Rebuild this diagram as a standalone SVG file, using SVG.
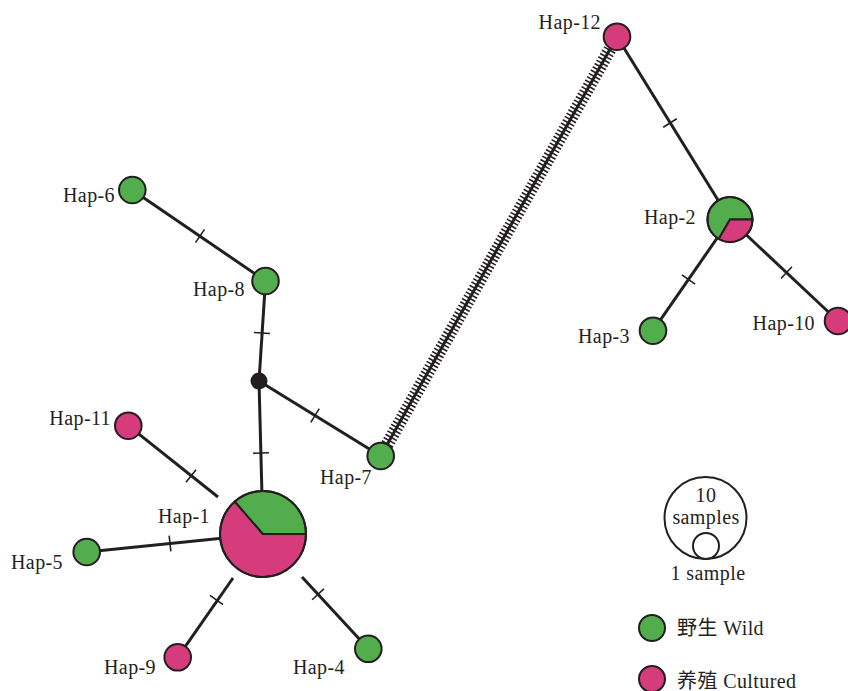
<svg xmlns="http://www.w3.org/2000/svg" xmlns:xlink="http://www.w3.org/1999/xlink" width="848" height="691" viewBox="0 0 848 691">
  <style>
    .edge { stroke: #231f20; stroke-width: 3; fill: none; }
    .hatch { stroke: #231f20; stroke-width: 13; fill: none; stroke-dasharray: 1.6 2.2; }
    .tick { stroke: #231f20; stroke-width: 1.6; }
    .wild { fill: #52ae4c; stroke: #231f20; stroke-width: 2; }
    .cult { fill: #d63b7c; stroke: #231f20; stroke-width: 2; }
    .ring { fill: none; stroke: #231f20; stroke-width: 2; }
    .median { fill: #231f20; }
    text { font-family: "Liberation Serif", "Noto Sans CJK SC", serif; font-size: 20px; fill: #231f20; letter-spacing: 0.4px; }
    .end { text-anchor: end; }
    .mid { text-anchor: middle; }
  </style>
  <defs>
    <line id="tk" class="tick" x1="0" y1="-8" x2="0" y2="8"/>
  </defs>
  <rect width="848" height="691" fill="#ffffff"/>

  <!-- connectors -->
  <g id="connectors">
    <line class="edge" x1="132.3" y1="190" x2="265.5" y2="281"/>
    <line class="edge" x1="265.5" y1="281" x2="259" y2="381"/>
    <line class="edge" x1="259" y1="381" x2="263" y2="534"/>
    <line class="edge" x1="259" y1="381" x2="380.7" y2="456"/>
    <line class="edge" x1="128.3" y1="425.7" x2="218" y2="497"/>
    <line class="edge" x1="86.7" y1="552" x2="263" y2="534"/>
    <line class="edge" x1="177.7" y1="657.3" x2="233" y2="578"/>
    <line class="edge" x1="302" y1="577" x2="368.3" y2="648.8"/>
    <line class="edge" x1="617" y1="36.7" x2="730" y2="219.5"/>
    <line class="edge" x1="730" y1="219.5" x2="653" y2="330.7"/>
    <line class="edge" x1="730" y1="219.5" x2="838" y2="321"/>
    <!-- long branch with many mutation steps -->
    <line class="edge" x1="380.7" y1="456" x2="617" y2="36.7"/>
    <line class="hatch" x1="387.1" y1="444.7" x2="611.5" y2="46.6"/>
    <!-- single mutation ticks -->
    <use xlink:href="#tk" transform="translate(200,236) rotate(34.3)"/>
    <use xlink:href="#tk" transform="translate(262,333) rotate(93.7)"/>
    <use xlink:href="#tk" transform="translate(261,453) rotate(88.5)"/>
    <use xlink:href="#tk" transform="translate(315,415.5) rotate(31.6)"/>
    <use xlink:href="#tk" transform="translate(191,476) rotate(38.8)"/>
    <use xlink:href="#tk" transform="translate(170,543.5) rotate(-6)"/>
    <use xlink:href="#tk" transform="translate(216.5,600) rotate(-55.3)"/>
    <use xlink:href="#tk" transform="translate(318,594.3) rotate(47.3)"/>
    <use xlink:href="#tk" transform="translate(670,123) rotate(58.3)"/>
    <use xlink:href="#tk" transform="translate(688.5,279.5) rotate(124.8)"/>
    <use xlink:href="#tk" transform="translate(786.5,272.6) rotate(43.1)"/>
  </g>

  <!-- haplotype nodes -->
  <g id="hap-1">
    <path class="cult" d="M263,534 L306,534 A43,43 0 1 1 234.8,501.5 Z"/>
    <path class="wild" d="M263,534 L234.8,501.5 A43,43 0 0 1 306,534 Z"/>
    <circle class="ring" cx="263" cy="534" r="43"/>
    <text class="end" x="210" y="523">Hap-1</text>
  </g>
  <g id="hap-2">
    <path class="wild" d="M730,219.5 L718.75,239 A22.5,22.5 0 1 1 752.5,219.5 Z"/>
    <path class="cult" d="M730,219.5 L752.5,219.5 A22.5,22.5 0 0 1 718.75,239 Z"/>
    <circle class="ring" cx="730" cy="219.5" r="22.5"/>
    <text class="end" x="696" y="224">Hap-2</text>
  </g>
  <g id="hap-3">
    <circle class="wild" cx="653" cy="330.7" r="13.3"/>
    <text class="end" x="630" y="343">Hap-3</text>
  </g>
  <g id="hap-4">
    <circle class="wild" cx="368.3" cy="648.8" r="13.3"/>
    <text x="293" y="674">Hap-4</text>
  </g>
  <g id="hap-5">
    <circle class="wild" cx="86.7" cy="552" r="13.3"/>
    <text class="end" x="63" y="569">Hap-5</text>
  </g>
  <g id="hap-6">
    <circle class="wild" cx="132.3" cy="190" r="13.3"/>
    <text class="end" x="115" y="201.5">Hap-6</text>
  </g>
  <g id="hap-7">
    <circle class="wild" cx="380.7" cy="456" r="13.3"/>
    <text class="end" x="372" y="484">Hap-7</text>
  </g>
  <g id="hap-8">
    <circle class="wild" cx="265.5" cy="281" r="13.3"/>
    <text class="end" x="245" y="296">Hap-8</text>
  </g>
  <g id="hap-9">
    <circle class="cult" cx="177.7" cy="657.3" r="13.3"/>
    <text class="end" x="156" y="674">Hap-9</text>
  </g>
  <g id="hap-10">
    <circle class="cult" cx="838" cy="321" r="13.3"/>
    <text class="end" x="815" y="330">Hap-10</text>
  </g>
  <g id="hap-11">
    <circle class="cult" cx="128.3" cy="425.7" r="13.3"/>
    <text class="end" x="111" y="425">Hap-11</text>
  </g>
  <g id="hap-12">
    <circle class="cult" cx="617" cy="36.7" r="13.3"/>
    <text class="end" x="601" y="28.5">Hap-12</text>
  </g>
  <g id="median-vector">
    <circle class="median" cx="259" cy="381" r="8.5"/>
  </g>

  <!-- legend -->
  <g id="legend-size">
    <circle class="ring" cx="705.5" cy="518" r="41"/>
    <circle class="ring" cx="706" cy="546" r="13"/>
    <text class="mid" x="706" y="502">10</text>
    <text class="mid" x="706" y="523.5">samples</text>
    <text class="mid" x="708" y="580">1 sample</text>
  </g>
  <g id="legend-wild">
    <circle class="wild" cx="652" cy="628" r="13"/>
    <text x="677" y="635">野生 Wild</text>
  </g>
  <g id="legend-cultured">
    <circle class="cult" cx="652" cy="679" r="13"/>
    <text x="677" y="688">养殖 Cultured</text>
  </g>
</svg>
